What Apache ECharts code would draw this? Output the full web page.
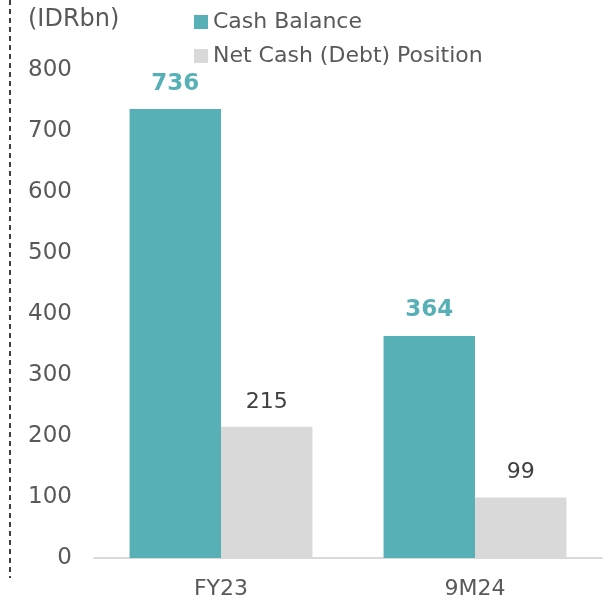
<!DOCTYPE html>
<html>
<head>
    <meta charset="utf-8"/>
    <title>Cash Balance</title>
    <script type="text/javascript" src="https://cdn.jsdelivr.net/npm/echarts@6/dist/echarts.min.js"></script>
    <style>
        html, body { margin: 0; padding: 0; background: #fff; }
    </style>
</head>
<body>
<div id="main" style="width: 608px;height:604px;"></div>
<script type="text/javascript">
    // 数据
    var periods = ['FY23', '9M24'];
    var cashBalance = [736, 364];
    var netCash = [215, 99];
    var yTicks = [0, 100, 200, 300, 400, 500, 600, 700, 800];

    var font = 'DejaVu Sans';
    var myChart = echarts.init(document.getElementById('main'));
    var chartOption = {
        animation: false,
        textStyle: { fontFamily: font },
        legend: {
            orient: 'vertical',
            left: 189,
            top: 6,
            icon: 'rect',
            itemWidth: 14,
            itemHeight: 14,
            itemGap: 12,
            textStyle: { fontSize: 22, color: '#595959', fontFamily: font },
            data: ['Cash Balance', 'Net Cash (Debt) Position']
        },
        graphic: [
            {
                type: 'line',
                shape: { x1: 10, y1: 0, x2: 10, y2: 578 },
                style: { stroke: '#000', lineWidth: 1.5, lineDash: [5, 4] }
            },
            {
                type: 'text',
                left: 28,
                top: 8,
                style: { text: '(IDRbn)', fontSize: 24, fill: '#595959', fontFamily: font }
            }
        ],
        grid: { left: 94, right: 6, top: 70, bottom: 46 },
        xAxis: {
            type: 'category',
            data: periods,
            axisTick: { show: false },
            axisLine: { show: true, lineStyle: { color: '#D9D9D9', width: 2 } },
            axisLabel: { fontSize: 22, color: '#595959', margin: 20, fontFamily: font }
        },
        yAxis: {
            type: 'value',
            min: yTicks[0],
            max: yTicks[yTicks.length - 1],
            interval: 100,
            splitLine: { show: false },
            axisLine: { show: false },
            axisTick: { show: false },
            axisLabel: { fontSize: 23, color: '#595959', margin: 22, fontFamily: font }
        },
        series: [
            {
                name: 'Cash Balance',
                type: 'bar',
                barWidth: '36%',
                barGap: '0%',
                itemStyle: { color: '#57B0B5' },
                label: {
                    show: true,
                    position: 'top',
                    distance: 14,
                    fontSize: 23,
                    fontWeight: 'bold',
                    color: '#57B0B5',
                    fontFamily: font
                },
                data: cashBalance
            },
            {
                name: 'Net Cash (Debt) Position',
                type: 'bar',
                barWidth: '36%',
                itemStyle: { color: '#D9D9D9' },
                label: {
                    show: true,
                    position: 'top',
                    distance: 14,
                    fontSize: 22,
                    color: '#404040',
                    fontFamily: font
                },
                data: netCash
            }
        ]
    };
    myChart.setOption(chartOption);
</script>
</body>
</html>
